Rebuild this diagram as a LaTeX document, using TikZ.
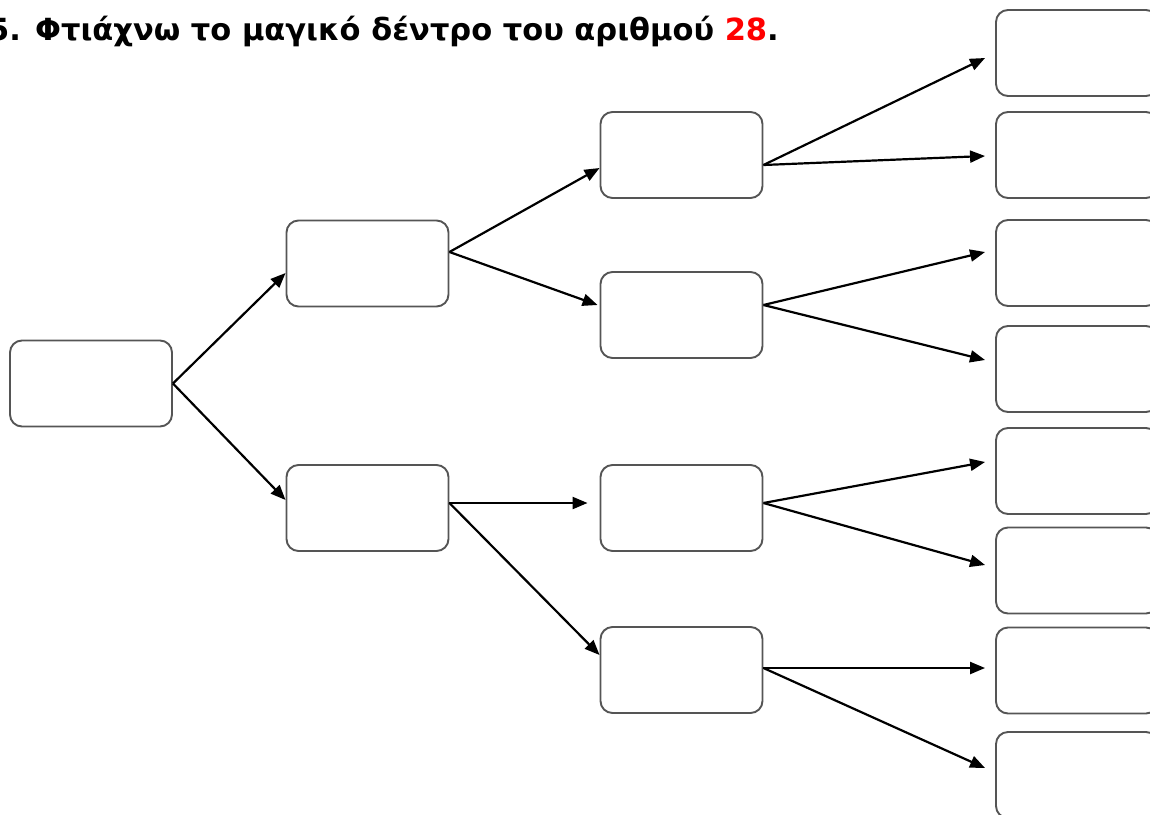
\documentclass[tikz,border=0pt]{standalone}
\usepackage{fontspec}
\setmainfont{DejaVu Sans}
\usetikzlibrary{arrows.meta}
\definecolor{boxgray}{HTML}{555555}
\begin{document}
\begin{tikzpicture}[x=1pt,y=-1pt,
  cell/.style={draw=boxgray,line width=1.9pt,rounded corners=12pt,minimum width=162pt,minimum height=86pt,inner sep=0pt,fill=white},
  arr/.style={line width=2.2pt,-{Triangle[length=15pt,width=12pt]}},
  title/.style={font=\bfseries\fontsize{30.5}{33}\selectfont,inner sep=0pt,anchor=base east}]
\useasboundingbox (0,0) rectangle (1150,814);
\fill[white] (0,0) rectangle (1150,814);
\node[title] (t) at (779,40) {5. Φτιάχνω το μαγικό δέντρο του αριθμού \textcolor{red}{28}.};
% root
\node[cell] (r) at (91,383.5) {};
% level 1
\node[cell] (a) at (367.5,263.5) {};
\node[cell] (b) at (367.5,508) {};
% level 2
\node[cell] (aa) at (681.5,155) {};
\node[cell] (ab) at (681.5,315) {};
\node[cell] (ba) at (681.5,508) {};
\node[cell] (bb) at (681.5,670) {};
% level 3
\node[cell] (l1) at (1077,53) {};
\node[cell] (l2) at (1077,155) {};
\node[cell] (l3) at (1077,263) {};
\node[cell] (l4) at (1077,369) {};
\node[cell] (l5) at (1077,471) {};
\node[cell] (l6) at (1077,570.5) {};
\node[cell] (l7) at (1077,670.5) {};
\node[cell] (l8) at (1077,775) {};
% connectors
\draw[arr] (r.east) -- ([yshift=-9.5pt]a.west);
\draw[arr] (r.east) -- ([yshift=8pt]b.west);
\draw[arr] ([yshift=11.5pt]a.east) -- ([yshift=-13pt]aa.west);
\draw[arr] ([yshift=11.5pt]a.east) -- ([xshift=-2pt,yshift=10pt]ab.west);
\draw[arr] ([yshift=5pt]b.east) -- ([xshift=-12pt,yshift=5pt]ba.west);
\draw[arr] ([yshift=5pt]b.east) -- ([yshift=15pt]bb.west);
\draw[arr] ([yshift=-10pt]aa.east) -- ([xshift=-10pt,yshift=-5pt]l1.west);
\draw[arr] ([yshift=-10pt]aa.east) -- ([xshift=-10pt,yshift=-1pt]l2.west);
\draw[arr] ([yshift=10pt]ab.east) -- ([xshift=-10pt,yshift=11pt]l3.west);
\draw[arr] ([yshift=10pt]ab.east) -- ([xshift=-10pt,yshift=9pt]l4.west);
\draw[arr] ([yshift=5pt]ba.east) -- ([xshift=-10pt,yshift=9pt]l5.west);
\draw[arr] ([yshift=5pt]ba.east) -- ([xshift=-10pt,yshift=5.5pt]l6.west);
\draw[arr] ([yshift=2pt]bb.east) -- ([xshift=-10pt,yshift=2.5pt]l7.west);
\draw[arr] ([yshift=2pt]bb.east) -- ([xshift=-10pt,yshift=7pt]l8.west);
\end{tikzpicture}
\end{document}
